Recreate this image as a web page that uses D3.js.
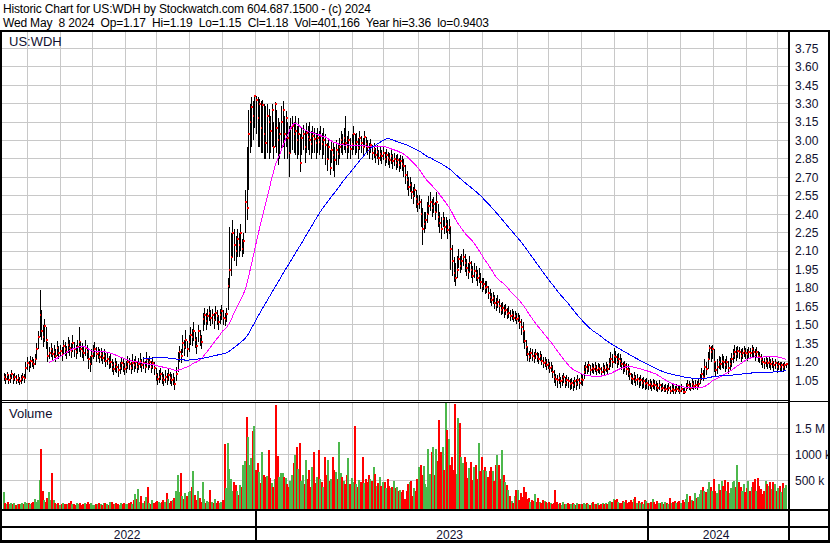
<!DOCTYPE html>
<html><head><meta charset="utf-8">
<script src="https://cdn.jsdelivr.net/npm/d3@7/dist/d3.min.js"></script>
<style>html,body{margin:0;padding:0;background:#fff;}svg{display:block;}</style>
</head><body><svg id="chart"></svg>
<script>
// ---------------- DATA ----------------
const headerLines = [
  "Historic Chart for US:WDH by Stockwatch.com 604.687.1500 - (c) 2024",
  "Wed May  8 2024  Op=1.17  Hi=1.19  Lo=1.15  Cl=1.18  Vol=401,166  Year hi=3.36  lo=0.9403"
];
const symbolLabel = "US:WDH";
const volumeLabel = "Volume";
const priceTicks = [1.05,1.20,1.35,1.50,1.65,1.80,1.95,2.10,2.25,2.40,2.55,2.70,2.85,3.00,3.15,3.30,3.45,3.60,3.75];
const volTicks = [500,1000,1500];            // thousands
const volTickLabels = ["500 k","1000 k","1.5 M"];
// index of the first trading day of each month (Jun 2022 .. May 2024)
const monthStarts = [16,37,57,78,98,119,140,161,182,202,223,243,265,285,306,328,348,369,390,411,432,453,474,494];
const yearLabels = ["2022","2023","2024"];
const yearStarts = [0,161,411];
const maPeriods = [30,90];

const closes = [
1.08,1.06,1.09,1.05,1.07,1.10,1.06,1.08,1.05,1.07,
1.04,1.06,1.08,1.07,1.15,1.19,1.17,1.21,1.20,1.18,
1.22,1.30,1.40,1.58,1.45,1.40,1.49,1.38,1.25,1.27,
1.30,1.26,1.28,1.25,1.31,1.27,1.29,1.26,1.33,1.30,
1.28,1.34,1.31,1.29,1.35,1.30,1.28,1.32,1.36,1.30,
1.29,1.27,1.31,1.28,1.22,1.18,1.25,1.28,1.30,1.26,
1.27,1.24,1.26,1.23,1.25,1.21,1.22,1.19,1.20,1.17,
1.14,1.18,1.16,1.13,1.15,1.19,1.17,1.14,1.16,1.20,
1.18,1.15,1.19,1.17,1.20,1.16,1.18,1.21,1.17,1.19,
1.16,1.22,1.18,1.20,1.16,1.19,1.15,1.09,1.06,1.08,
1.10,1.07,1.05,1.08,1.06,1.09,1.07,1.05,1.06,1.02,
1.10,1.22,1.28,1.25,1.35,1.32,1.38,1.30,1.36,1.42,
1.40,1.45,1.38,1.33,1.45,1.40,1.36,1.55,1.58,1.53,
1.57,1.60,1.56,1.58,1.54,1.60,1.57,1.52,1.58,1.61,
1.56,1.55,1.59,1.82,1.95,2.05,2.25,2.15,2.10,2.20,
2.15,2.25,2.12,2.18,2.50,2.45,3.05,3.15,3.27,3.20,
3.36,3.33,3.18,3.30,3.10,3.29,3.05,2.98,3.20,3.15,
3.08,3.25,2.95,3.30,3.10,3.00,3.05,3.15,3.25,3.05,
3.18,3.02,2.90,3.10,3.12,3.05,3.08,3.00,3.05,2.82,
3.02,3.05,2.95,3.06,3.03,3.00,2.97,3.04,3.01,2.98,
3.02,2.99,3.04,2.97,3.00,2.96,2.85,2.95,2.78,2.92,
2.88,2.84,2.92,2.89,2.95,3.00,2.97,3.02,2.98,2.95,
3.00,2.93,2.97,3.05,2.96,2.99,2.94,3.02,2.98,2.95,
3.03,2.97,2.95,2.92,2.96,2.90,2.93,2.88,2.91,2.86,
2.89,2.87,2.90,2.85,2.88,2.86,2.84,2.87,2.83,2.85,
2.82,2.84,2.80,2.83,2.81,2.79,2.72,2.68,2.62,2.64,
2.58,2.55,2.60,2.52,2.48,2.50,2.40,2.28,2.32,2.35,
2.40,2.47,2.50,2.45,2.48,2.42,2.50,2.38,2.33,2.28,
2.36,2.30,2.32,2.27,2.30,2.12,2.02,1.92,1.88,1.95,
2.04,1.98,2.02,2.05,2.00,1.96,1.93,2.00,1.95,1.90,
1.94,1.92,1.88,1.90,1.85,1.82,1.83,1.80,1.81,1.76,
1.73,1.70,1.72,1.68,1.66,1.69,1.65,1.62,1.64,1.61,
1.62,1.59,1.60,1.57,1.58,1.56,1.57,1.55,1.56,1.52,
1.48,1.45,1.37,1.32,1.26,1.24,1.27,1.25,1.23,1.26,
1.24,1.22,1.25,1.21,1.19,1.20,1.17,1.18,1.15,1.16,
1.12,1.08,1.06,1.05,1.07,1.04,1.05,1.08,1.03,1.05,
1.04,1.02,1.03,1.01,1.04,1.02,1.05,1.03,1.06,1.05,
1.12,1.16,1.14,1.17,1.13,1.15,1.14,1.16,1.13,1.15,
1.14,1.12,1.15,1.13,1.16,1.14,1.18,1.22,1.20,1.25,
1.24,1.20,1.22,1.21,1.18,1.15,1.17,1.14,1.13,1.10,
1.07,1.06,1.08,1.05,1.06,1.04,1.05,1.03,1.04,1.02,
1.03,1.01,1.02,1.00,1.02,1.01,1.00,0.99,1.01,0.98,
0.99,0.97,0.98,0.97,0.99,0.96,0.98,0.97,0.96,0.98,
0.97,0.96,0.98,0.955,0.95,0.99,1.01,1.00,0.99,1.02,
1.00,1.01,1.00,1.02,1.06,1.10,1.08,1.16,1.14,1.22,
1.31,1.28,1.30,1.20,1.13,1.16,1.20,1.18,1.21,1.20,
1.17,1.20,1.15,1.18,1.22,1.25,1.28,1.26,1.29,1.28,
1.25,1.27,1.29,1.27,1.26,1.28,1.27,1.30,1.28,1.26,
1.28,1.25,1.24,1.22,1.20,1.19,1.21,1.19,1.20,1.18,
1.20,1.17,1.19,1.16,1.18,1.16,1.17,1.16,1.17,1.18
];
const highs = [
1.11,1.10,1.12,1.09,1.10,1.13,1.10,1.11,1.09,1.10,
1.08,1.09,1.11,1.10,1.20,1.24,1.21,1.25,1.24,1.22,
1.26,1.35,1.45,1.78,1.62,1.50,1.55,1.48,1.36,1.32,
1.35,1.31,1.34,1.30,1.37,1.33,1.34,1.32,1.38,1.36,
1.33,1.40,1.38,1.35,1.42,1.36,1.34,1.38,1.48,1.36,
1.35,1.33,1.38,1.34,1.30,1.25,1.30,1.34,1.36,1.32,
1.32,1.30,1.31,1.29,1.30,1.27,1.28,1.25,1.26,1.22,
1.20,1.23,1.21,1.18,1.20,1.24,1.22,1.19,1.21,1.25,
1.23,1.20,1.26,1.22,1.25,1.21,1.23,1.27,1.22,1.24,
1.21,1.28,1.23,1.25,1.21,1.24,1.20,1.15,1.11,1.13,
1.15,1.12,1.10,1.13,1.11,1.14,1.12,1.10,1.11,1.08,
1.16,1.28,1.33,1.30,1.42,1.38,1.46,1.37,1.42,1.48,
1.47,1.52,1.44,1.40,1.50,1.46,1.42,1.60,1.64,1.60,
1.63,1.65,1.62,1.63,1.60,1.65,1.62,1.58,1.63,1.66,
1.62,1.60,1.64,1.88,2.30,2.25,2.35,2.28,2.22,2.28,
2.25,2.32,2.20,2.25,2.60,2.95,3.25,3.30,3.35,3.32,
3.37,3.36,3.35,3.34,3.32,3.33,3.30,3.28,3.30,3.26,
3.20,3.30,3.15,3.31,3.25,3.18,3.15,3.28,3.32,3.20,
3.24,3.15,3.12,3.18,3.20,3.15,3.20,3.12,3.18,3.05,
3.10,3.13,3.08,3.14,3.12,3.15,3.08,3.12,3.10,3.06,
3.10,3.08,3.12,3.06,3.10,3.05,2.98,3.02,2.92,3.00,
2.98,2.95,3.00,2.98,3.02,3.08,3.05,3.10,3.20,3.04,
3.08,3.02,3.05,3.12,3.05,3.06,3.02,3.08,3.04,3.02,
3.08,3.03,3.00,2.98,3.01,2.96,2.98,2.94,2.96,2.92,
2.95,2.92,2.95,2.91,2.93,2.91,2.90,2.92,2.89,2.90,
2.88,2.89,2.86,2.88,2.87,2.85,2.80,2.75,2.70,2.70,
2.66,2.62,2.65,2.60,2.56,2.56,2.52,2.45,2.42,2.42,
2.50,2.55,2.58,2.52,2.54,2.50,2.58,2.48,2.42,2.38,
2.42,2.38,2.38,2.35,2.36,2.30,2.15,2.05,2.00,2.06,
2.12,2.06,2.08,2.12,2.08,2.04,2.00,2.06,2.02,1.98,
2.00,1.98,1.95,1.96,1.92,1.88,1.88,1.86,1.86,1.82,
1.79,1.76,1.77,1.74,1.72,1.74,1.71,1.68,1.69,1.66,
1.67,1.64,1.65,1.62,1.63,1.61,1.61,1.60,1.60,1.58,
1.55,1.52,1.45,1.38,1.32,1.29,1.31,1.30,1.28,1.30,
1.28,1.27,1.29,1.26,1.24,1.24,1.22,1.22,1.20,1.20,
1.17,1.13,1.10,1.09,1.11,1.08,1.09,1.11,1.08,1.09,
1.08,1.06,1.07,1.05,1.08,1.06,1.09,1.07,1.10,1.09,
1.17,1.20,1.18,1.21,1.17,1.19,1.18,1.20,1.17,1.19,
1.18,1.16,1.19,1.17,1.20,1.18,1.23,1.28,1.26,1.31,
1.29,1.26,1.27,1.26,1.23,1.20,1.21,1.19,1.18,1.15,
1.11,1.10,1.12,1.09,1.10,1.08,1.09,1.07,1.08,1.06,
1.07,1.05,1.06,1.04,1.06,1.05,1.04,1.03,1.05,1.02,
1.03,1.01,1.02,1.01,1.03,1.00,1.02,1.01,1.00,1.02,
1.01,1.00,1.02,0.99,0.99,1.03,1.05,1.04,1.03,1.06,
1.04,1.05,1.04,1.06,1.10,1.15,1.13,1.22,1.20,1.28,
1.34,1.33,1.34,1.30,1.20,1.22,1.25,1.24,1.26,1.25,
1.22,1.25,1.21,1.23,1.27,1.30,1.34,1.32,1.33,1.32,
1.30,1.31,1.33,1.31,1.30,1.32,1.31,1.34,1.32,1.30,
1.32,1.29,1.28,1.26,1.24,1.23,1.25,1.23,1.24,1.22,
1.23,1.21,1.22,1.20,1.21,1.20,1.20,1.19,1.20,1.19
];
const lows = [
1.04,1.02,1.05,1.02,1.03,1.06,1.02,1.04,1.02,1.03,
1.01,1.02,1.04,1.03,1.07,1.13,1.12,1.15,1.16,1.14,
1.17,1.22,1.30,1.40,1.38,1.32,1.36,1.30,1.20,1.22,
1.24,1.21,1.23,1.20,1.25,1.22,1.24,1.21,1.26,1.25,
1.22,1.27,1.25,1.23,1.28,1.24,1.22,1.26,1.28,1.24,
1.23,1.21,1.25,1.22,1.14,1.12,1.17,1.22,1.24,1.20,
1.22,1.19,1.21,1.18,1.20,1.16,1.17,1.14,1.15,1.12,
1.09,1.12,1.11,1.08,1.10,1.13,1.12,1.09,1.11,1.14,
1.13,1.10,1.13,1.12,1.14,1.11,1.13,1.15,1.12,1.14,
1.11,1.16,1.13,1.15,1.11,1.14,1.09,1.04,1.01,1.03,
1.05,1.02,1.00,1.03,1.01,1.04,1.02,1.00,1.01,0.97,
1.04,1.12,1.20,1.19,1.27,1.25,1.30,1.24,1.28,1.34,
1.33,1.37,1.31,1.26,1.36,1.33,1.30,1.45,1.50,1.46,
1.50,1.53,1.49,1.51,1.47,1.53,1.50,1.46,1.51,1.54,
1.50,1.49,1.52,1.62,1.80,1.90,2.05,2.02,1.98,2.05,
2.05,2.10,2.05,2.08,2.25,2.35,2.60,2.90,2.95,3.00,
3.10,3.05,2.95,2.95,2.90,2.90,2.85,2.85,2.90,2.85,
2.90,2.95,2.85,2.95,2.90,2.80,2.85,2.92,2.95,2.85,
2.95,2.85,2.70,2.90,2.92,2.90,2.88,2.85,2.88,2.74,
2.88,2.92,2.82,2.90,2.92,2.88,2.85,2.90,2.90,2.85,
2.90,2.88,2.92,2.85,2.88,2.80,2.75,2.85,2.72,2.82,
2.75,2.70,2.80,2.80,2.85,2.90,2.88,2.92,2.90,2.85,
2.90,2.85,2.88,2.92,2.88,2.90,2.85,2.92,2.90,2.88,
2.95,2.90,2.88,2.85,2.90,2.84,2.86,2.82,2.85,2.80,
2.83,2.81,2.84,2.79,2.82,2.80,2.78,2.81,2.77,2.79,
2.76,2.78,2.74,2.77,2.75,2.70,2.65,2.60,2.55,2.58,
2.52,2.48,2.54,2.45,2.42,2.44,2.30,2.15,2.25,2.28,
2.33,2.40,2.43,2.38,2.41,2.35,2.42,2.30,2.25,2.20,
2.30,2.24,2.25,2.20,2.24,1.95,1.90,1.85,1.82,1.88,
1.96,1.92,1.95,1.98,1.93,1.90,1.87,1.93,1.88,1.84,
1.88,1.86,1.82,1.84,1.79,1.77,1.78,1.75,1.76,1.71,
1.68,1.65,1.67,1.63,1.61,1.64,1.60,1.58,1.59,1.56,
1.58,1.55,1.56,1.53,1.54,1.52,1.53,1.51,1.52,1.47,
1.42,1.35,1.30,1.25,1.21,1.20,1.22,1.21,1.19,1.22,
1.20,1.18,1.21,1.17,1.15,1.16,1.13,1.14,1.11,1.12,
1.07,1.03,1.00,0.99,1.02,0.99,1.00,1.03,0.99,1.00,
0.99,0.97,0.98,0.96,0.99,0.97,1.00,0.98,1.01,1.00,
1.06,1.10,1.10,1.12,1.09,1.11,1.10,1.12,1.09,1.11,
1.10,1.08,1.11,1.09,1.12,1.10,1.13,1.16,1.15,1.19,
1.18,1.15,1.17,1.16,1.13,1.10,1.12,1.09,1.08,1.05,
1.02,1.01,1.03,1.00,1.01,0.99,1.00,0.98,0.99,0.97,
0.98,0.97,0.98,0.96,0.98,0.97,0.96,0.95,0.97,0.95,
0.96,0.95,0.95,0.94,0.96,0.94,0.95,0.94,0.94,0.95,
0.95,0.94,0.95,0.94,0.94,0.96,0.98,0.97,0.96,0.98,
0.97,0.98,0.97,0.99,1.02,1.05,1.04,1.08,1.09,1.14,
1.22,1.20,1.22,1.12,1.08,1.10,1.14,1.13,1.15,1.14,
1.12,1.14,1.10,1.13,1.16,1.19,1.22,1.21,1.23,1.22,
1.20,1.22,1.24,1.22,1.21,1.23,1.22,1.24,1.23,1.21,
1.23,1.20,1.19,1.17,1.15,1.14,1.16,1.14,1.15,1.13,
1.15,1.12,1.14,1.11,1.13,1.12,1.12,1.12,1.13,1.15
];
// volume in thousands of shares
const volumes = [
280,60,45,80,35,55,40,70,30,50,
45,35,60,40,90,70,55,40,65,80,
150,75,120,500,1100,300,120,90,160,280,
120,640,120,60,40,55,30,45,70,35,
50,40,60,100,35,45,30,55,40,70,
30,45,60,35,90,40,55,30,25,45,
40,60,35,30,55,70,40,30,80,90,
45,35,60,40,30,55,45,70,35,40,
60,90,50,130,240,150,330,90,200,60,
100,180,380,70,40,120,57,80,110,90,
60,80,120,90,250,150,60,100,120,160,
300,600,280,640,200,150,260,190,280,290,
380,680,220,120,300,160,90,460,140,57,
110,90,310,80,60,150,70,100,60,90,
130,1200,350,1220,720,525,300,460,410,300,
220,410,380,800,870,1720,1340,800,920,1450,
1540,700,830,660,450,1040,600,570,590,1080,
540,450,380,520,1950,970,570,650,635,570,
540,420,380,490,600,830,990,1150,720,1210,
490,600,420,890,520,700,380,760,1050,440,
560,1080,520,470,380,950,600,890,480,520,
950,700,660,520,1240,650,560,480,420,600,
920,430,550,470,1540,420,380,500,470,950,
440,520,470,610,520,480,760,630,400,440,
570,400,470,460,350,520,400,360,380,480,
350,380,300,320,280,320,150,300,420,460,
490,200,350,300,520,760,800,600,780,420,
380,1100,620,1050,1150,600,1100,880,1660,1050,
1150,700,2000,1470,1300,800,950,700,1960,620,
1690,1600,950,830,950,860,540,730,860,500,
760,800,520,1210,680,950,700,760,670,560,
670,760,670,480,800,990,800,520,1080,600,
470,410,320,190,110,57,200,310,310,120,
260,180,380,270,140,160,90,120,110,240,
90,160,80,70,120,100,90,60,80,70,
50,60,310,80,40,60,30,90,50,40,
70,35,50,60,45,30,55,40,35,50,
60,40,70,45,30,60,90,40,35,55,
30,45,60,40,70,50,90,110,80,140,
120,140,90,70,60,100,80,130,60,90,
120,80,150,185,70,110,60,90,50,130,
100,70,60,90,140,80,50,110,70,60,
90,50,80,60,40,165,70,90,110,60,
80,100,60,120,90,140,230,90,200,120,
100,250,160,170,230,310,380,300,270,330,
460,380,300,525,300,250,420,320,490,400,
505,300,460,260,350,470,490,380,790,470,
380,300,420,270,360,490,300,380,460,525,
300,540,400,330,230,300,480,420,390,460,
340,470,420,300,360,390,280,440,350,401
];

// ---------------- LAYOUT ----------------
const W = 830, H = 543;
const plotL = 2, plotR = 788;
const priceTop = 32, priceBot = 400;
const volTop = 403, volBot = 509;
const N = closes.length;

const svg = d3.select("#chart").attr("width", W).attr("height", H)
  .style("font-family", "'Liberation Sans', Arial, sans-serif");
svg.append("rect").attr("width", W).attr("height", H).attr("fill", "#fff");

const x = d3.scaleLinear().domain([0, N - 1]).range([3.5, 786]);
const y = d3.scaleLinear().domain([1.05, 3.75]).range([380.2, 48.3]);
const yv = d3.scaleLinear().domain([0, 1500]).range([506.3, 428.3]);
const px = v => Math.floor(v) + 0.5;

const grid = "#c8c8c8";
// header
headerLines.forEach((t, i) => {
  svg.append("text").attr("x", 3).attr("y", 13 + i * 14)
    .attr("font-size", 12).attr("fill", "#000")
    .attr("textLength", i === 0 ? 368 : 486).attr("lengthAdjust", "spacing")
    .style("white-space", "pre").text(t);
});

// clip paths
const defs = svg.append("defs");
defs.append("clipPath").attr("id", "cp").append("rect")
  .attr("x", plotL).attr("y", priceTop).attr("width", plotR - plotL).attr("height", priceBot - priceTop);
defs.append("clipPath").attr("id", "cv").append("rect")
  .attr("x", plotL).attr("y", volTop).attr("width", plotR - plotL).attr("height", volBot - volTop);

// grid lines
const gP = svg.append("g").attr("shape-rendering", "crispEdges");
monthStarts.forEach(m => {
  const gx = px(x(m - 0.5));
  gP.append("line").attr("x1", gx).attr("x2", gx).attr("y1", priceTop).attr("y2", priceBot).attr("stroke", grid);
  gP.append("line").attr("x1", gx).attr("x2", gx).attr("y1", volTop).attr("y2", volBot).attr("stroke", grid);
});
priceTicks.forEach(t => {
  gP.append("line").attr("x1", plotL).attr("x2", plotR).attr("y1", px(y(t))).attr("y2", px(y(t))).attr("stroke", grid);
});
volTicks.forEach(t => {
  gP.append("line").attr("x1", plotL).attr("x2", plotR).attr("y1", px(yv(t))).attr("y2", px(yv(t))).attr("stroke", grid);
});

// price bars: each day draws a 1px high-low bar, then its 2x2 close dot
const gBars = svg.append("g").attr("clip-path", "url(#cp)").attr("shape-rendering", "crispEdges");
const days = gBars.selectAll("g.day").data(closes).join("g").attr("class", "day");
days.append("rect")
  .attr("x", (d, i) => Math.round(x(i))).attr("width", 1)
  .attr("y", (d, i) => Math.round(y(highs[i])))
  .attr("height", (d, i) => Math.max(1, Math.round(y(lows[i])) - Math.round(y(highs[i]))))
  .attr("fill", "#000");
days.append("rect")
  .attr("x", (d, i) => Math.round(x(i))).attr("width", 2)
  .attr("y", d => Math.round(y(d)) - 1).attr("height", 2)
  .attr("fill", "#ff0000");

// moving averages
const maColors = ["#ff00ff", "#0000ff"];
maPeriods.forEach((p, k) => {
  const pts = [];
  for (let i = p - 1; i < N; i++) pts.push([i, d3.mean(closes.slice(i - p + 1, i + 1))]);
  gBars.append("path").datum(pts)
    .attr("d", d3.line().x(d => x(d[0])).y(d => y(d[1])))
    .attr("fill", "none").attr("stroke", maColors[k]).attr("stroke-width", 1)
    .attr("shape-rendering", "crispEdges");
});

// volume bars
const gVol = svg.append("g").attr("clip-path", "url(#cv)").attr("shape-rendering", "crispEdges");
gVol.selectAll("rect").data(volumes).join("rect")
  .attr("x", (d, i) => Math.round(x(i)) - 1).attr("width", 2)
  .attr("y", d => Math.round(yv(d)))
  .attr("height", d => volBot - Math.round(yv(d)))
  .attr("fill", (d, i) => {
    if (i === 0) return "#4cb84c";
    const c = Math.round(closes[i] * 1000), pc = Math.round(closes[i - 1] * 1000);
    return c > pc ? "#4cb84c" : (c < pc ? "#ff0000" : "#a8a8a8");
  });

// panel labels
svg.append("text").attr("x", 9).attr("y", 46).attr("font-size", 13).attr("fill", "#101030").text(symbolLabel);
svg.append("text").attr("x", 9).attr("y", 418).attr("font-size", 13).attr("fill", "#101030").text(volumeLabel);

// right axes
const axP = svg.append("g").attr("transform", `translate(${plotR + 2},0)`)
  .call(d3.axisRight(y).tickValues(priceTicks).tickFormat(d3.format(".2f")).tickSize(0).tickPadding(5));
const axV = svg.append("g").attr("transform", `translate(${plotR + 2},0)`)
  .call(d3.axisRight(yv).tickValues(volTicks).tickFormat((d, i) => volTickLabels[i]).tickSize(0).tickPadding(5));
[axP, axV].forEach(a => {
  a.select(".domain").remove();
  a.selectAll("text").attr("font-size", 12).attr("fill", "#101030")
    .attr("font-family", "'Liberation Sans', Arial, sans-serif");
});

// year labels
yearLabels.forEach((t, i) => {
  const x0 = i === 0 ? plotL : x(yearStarts[i] - 0.5);
  const x1 = i < yearLabels.length - 1 ? x(yearStarts[i + 1] - 0.5) : plotR;
  svg.append("text").attr("x", (x0 + x1) / 2 - 1.5).attr("y", 539).attr("text-anchor", "middle")
    .attr("font-size", 12).attr("fill", "#101030").text(t);
});

// frame
const gF = svg.append("g").attr("shape-rendering", "crispEdges").attr("fill", "#000");
gF.append("rect").attr("x", 0).attr("y", 30).attr("width", W).attr("height", 2);           // header bottom
gF.append("rect").attr("x", 0).attr("y", 30).attr("width", 2).attr("height", H - 30);      // left
gF.append("rect").attr("x", plotR).attr("y", 30).attr("width", 2).attr("height", H - 30);  // axis divider
gF.append("rect").attr("x", W - 2).attr("y", 30).attr("width", 2).attr("height", H - 30);  // right edge
gF.append("rect").attr("x", 0).attr("y", 400).attr("width", plotR).attr("height", 1);      // panel separator (double)
gF.append("rect").attr("x", 0).attr("y", 402).attr("width", plotR).attr("height", 1);
gF.append("rect").attr("x", plotR).attr("y", 401).attr("width", W - plotR).attr("height", 1);
gF.append("rect").attr("x", 0).attr("y", 509).attr("width", W).attr("height", 2);          // volume bottom
gF.append("rect").attr("x", 0).attr("y", 526).attr("width", W).attr("height", 2);          // date rows
gF.append("rect").attr("x", 0).attr("y", 540).attr("width", W).attr("height", 3);          // bottom
yearStarts.slice(1).forEach(s => {
  gF.append("rect").attr("x", Math.floor(x(s - 0.5))).attr("y", 510).attr("width", 1.5).attr("height", 31);
});
</script></body></html>
